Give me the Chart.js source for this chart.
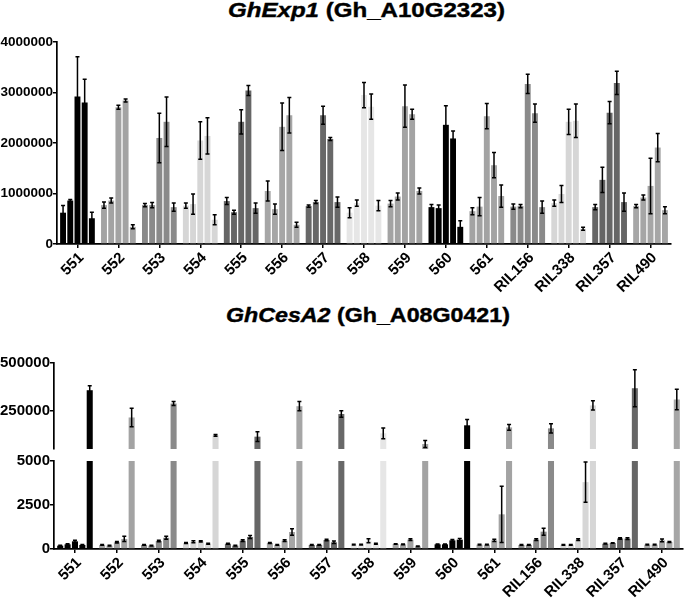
<!DOCTYPE html>
<html>
<head>
<meta charset="utf-8">
<script src="https://cdn.jsdelivr.net/npm/chart.js@4.4.0/dist/chart.umd.min.js"></script>
<style>
  body { margin: 0; background: #fff; width: 685px; height: 604px; overflow: hidden; position: relative; font-family: 'Liberation Sans', Arial, sans-serif; }
  .box { position: absolute; left: 0; width: 685px; }
  .title { position: absolute; font-weight: bold; font-size: 20px; line-height: 20px; white-space: nowrap; transform-origin: 0 0; color: #000; -webkit-text-stroke: 0.4px #000; }
</style>
</head>
<body>
<div class="title" data-w="277" style="left:228px; top:0px;"><i>GhExp1</i> (Gh_A10G2323)</div>
<div class="title" data-w="284" style="left:226px; top:305px;"><i>GhCesA2</i> (Gh_A08G0421)</div>

<div class="box" style="top:0; height:300px;"><canvas id="exp1" width="685" height="300"></canvas></div>
<div class="box" style="top:330px; height:130px;"><canvas id="cesHigh" width="685" height="130"></canvas></div>
<div class="box" style="top:445px; height:159px;"><canvas id="cesLow" width="685" height="159"></canvas></div>

<script>
// lines, one bar group per line
const groups = ['551', '552', '553', '554', '555', '556', '557', '558', '559', '560', '561', 'RIL156', 'RIL338', 'RIL357', 'RIL490'];
const groupColors = ['#000000', '#a3a3a3', '#8a8a8a', '#d6d6d6', '#666666', '#a6a6a6', '#686868', '#e6e6e6', '#a3a3a3', '#000000', '#a3a3a3', '#8a8a8a', '#d6d6d6', '#666666', '#a6a6a6'];

// GhExp1 - five bars per line, mean and error
const exp1Bar1 = [620000, 770000, 770000, 760000, 850000, 1050000, 750000, 620000, 800000, 730000, 650000, 740000, 810000, 730000, 750000];
const exp1Bar2 = [860000, 860000, 770000, 790000, 630000, 690000, 830000, 810000, 940000, 710000, 740000, 750000, 990000, 1270000, 920000];
const exp1Bar3 = [2920000, 2710000, 2100000, 2050000, 2420000, 2320000, 2550000, 2950000, 2730000, 2360000, 2530000, 3170000, 2420000, 2600000, 1150000];
const exp1Bar4 = [2800000, 2840000, 2420000, 2140000, 3040000, 2550000, 2080000, 2720000, 2570000, 2090000, 1560000, 2590000, 2440000, 3190000, 1910000];
const exp1Bar5 = [510000, 340000, 730000, 480000, 710000, 380000, 830000, 760000, 1050000, 340000, 950000, 730000, 300000, 830000, 670000];
const exp1Err1 = [140000, 60000, 30000, 50000, 70000, 200000, 20000, 100000, 60000, 50000, 70000, 50000, 60000, 50000, 30000];
const exp1Err2 = [20000, 50000, 50000, 200000, 40000, 100000, 30000, 60000, 70000, 60000, 180000, 30000, 170000, 250000, 50000];
const exp1Err3 = [790000, 40000, 490000, 370000, 240000, 470000, 180000, 250000, 420000, 380000, 250000, 190000, 250000, 220000, 550000];
const exp1Err4 = [460000, 30000, 490000, 360000, 100000, 350000, 30000, 250000, 100000, 150000, 250000, 180000, 330000, 230000, 280000];
const exp1Err5 = [120000, 40000, 80000, 100000, 100000, 50000, 100000, 100000, 60000, 120000, 220000, 120000, 30000, 180000, 70000];

// GhCesA2
const cesBar1 = [190, 230, 230, 340, 300, 340, 230, 245, 285, 265, 245, 230, 230, 300, 245];
const cesBar2 = [265, 190, 190, 415, 190, 230, 230, 245, 265, 265, 245, 230, 230, 340, 245];
const cesBar3 = [435, 380, 455, 435, 470, 470, 510, 470, 530, 490, 490, 530, 530, 600, 490];
const cesBar4 = [230, 570, 640, 300, 680, 965, 380, 300, 150, 530, 1970, 985, 3800, 590, 400];
const cesBar5 = [357600, 215000, 288000, 121500, 114600, 274000, 233000, 132000, 76000, 174000, 163000, 158000, 278000, 368000, 309000];
const cesErr1 = [30, 20, 20, 30, 30, 30, 20, 20, 20, 20, 20, 20, 20, 20, 20];
const cesErr2 = [40, 20, 20, 60, 20, 20, 20, 20, 20, 20, 20, 20, 20, 20, 20];
const cesErr3 = [60, 40, 40, 40, 50, 50, 40, 110, 50, 50, 60, 50, 50, 40, 80];
const cesErr4 = [30, 150, 90, 30, 80, 180, 70, 30, 20, 60, 1600, 200, 1150, 50, 30];
const cesErr5 = [24000, 48000, 10000, 5000, 26000, 24000, 17000, 28000, 18000, 31000, 15000, 24000, 24000, 97000, 54000];

// axis ticks
const exp1Ticks = [0, 1000000, 2000000, 3000000, 4000000];
const cesHighTicks = [250000, 500000];
const cesLowTicks = [0, 2500, 5000];

// draws mean +/- error whiskers on top of the bars
const errorBars = {
  id: 'errorBars',
  afterDatasetsDraw(chart) {
    const ctx = chart.ctx;
    const area = chart.chartArea;
    const y = chart.scales.y;
    ctx.save();
    ctx.beginPath();
    ctx.rect(area.left, area.top - 1, area.right - area.left, area.bottom - area.top + 1);
    ctx.clip();
    ctx.strokeStyle = '#000';
    ctx.lineWidth = 1.5;
    chart.data.datasets.forEach((ds, di) => {
      chart.getDatasetMeta(di).data.forEach((bar, i) => {
        const v = ds.data[i], e = ds.errors[i];
        const top = y.getPixelForValue(v + e);
        const bot = y.getPixelForValue(v - e);
        ctx.beginPath();
        ctx.moveTo(bar.x, top); ctx.lineTo(bar.x, bot);
        ctx.moveTo(bar.x - 2, top); ctx.lineTo(bar.x + 2, top);
        ctx.moveTo(bar.x - 2, bot); ctx.lineTo(bar.x + 2, bot);
        ctx.stroke();
      });
    });
    ctx.restore();
  }
};

function buildDatasets(means, errs) {
  return means.map((m, k) => ({
    data: m,
    errors: errs[k],
    backgroundColor: groupColors,
    borderWidth: 0,
    categoryPercentage: 0.88,
    barPercentage: 0.82
  }));
}

function makeChart(id, means, errs, cfg) {
  const axisLine = { color: '#000', width: 1.7 };
  return new Chart(document.getElementById(id), {
    type: 'bar',
    data: { labels: groups, datasets: buildDatasets(means, errs) },
    plugins: [errorBars],
    options: {
      responsive: false,
      animation: false,
      layout: { padding: cfg.padding },
      plugins: { legend: { display: false }, tooltip: { enabled: false } },
      scales: {
        x: {
          display: cfg.showX,
          offset: true,
          grid: { drawOnChartArea: false, offset: false, tickLength: 4, color: '#000', lineWidth: 1.5 },
          border: axisLine,
          ticks: { color: '#000', font: { size: 15, weight: 'bold' }, maxRotation: 45, minRotation: 45, padding: 1, labelOffset: 4, autoSkip: false },
          afterFit: s => { s.height = cfg.xHeight; }
        },
        y: {
          min: cfg.min,
          max: cfg.max,
          grid: { drawOnChartArea: false, tickLength: 4, color: '#000', lineWidth: 1.5 },
          border: axisLine,
          ticks: { color: '#000', font: { size: cfg.yFont, weight: 'bold' }, padding: 0, callback: v => String(v) },
          afterBuildTicks: s => { s.ticks = cfg.ticks.map(v => ({ value: v })); },
          afterFit: s => { s.width = cfg.yWidth; }
        }
      }
    }
  });
}

Chart.defaults.font.family = "'Liberation Sans', Arial, sans-serif";

makeChart('exp1',
  [exp1Bar1, exp1Bar2, exp1Bar3, exp1Bar4, exp1Bar5],
  [exp1Err1, exp1Err2, exp1Err3, exp1Err4, exp1Err5],
  { min: 0, max: 4000000, ticks: exp1Ticks, yFont: 13.5, yWidth: 57, showX: true, xHeight: 56,
    padding: { top: 42, right: 14, left: 0, bottom: 0 } });

makeChart('cesHigh',
  [cesBar1, cesBar2, cesBar3, cesBar4, cesBar5],
  [cesErr1, cesErr2, cesErr3, cesErr4, cesErr5],
  { min: 50000, max: 500000, ticks: cesHighTicks, yFont: 15, yWidth: 54, showX: false, xHeight: 0,
    padding: { top: 33, right: 2, left: 0, bottom: 11 } });

makeChart('cesLow',
  [cesBar1, cesBar2, cesBar3, cesBar4, cesBar5],
  [cesErr1, cesErr2, cesErr3, cesErr4, cesErr5],
  { min: 0, max: 5000, ticks: cesLowTicks, yFont: 15, yWidth: 54, showX: true, xHeight: 55,
    padding: { top: 16, right: 2, left: 0, bottom: 0 } });

// stretch titles to the measured width of the original
document.querySelectorAll('.title').forEach(el => {
  const w = el.getBoundingClientRect().width;
  el.style.transform = 'scaleX(' + (Number(el.dataset.w) / w).toFixed(3) + ')';
});
</script>
</body>
</html>
